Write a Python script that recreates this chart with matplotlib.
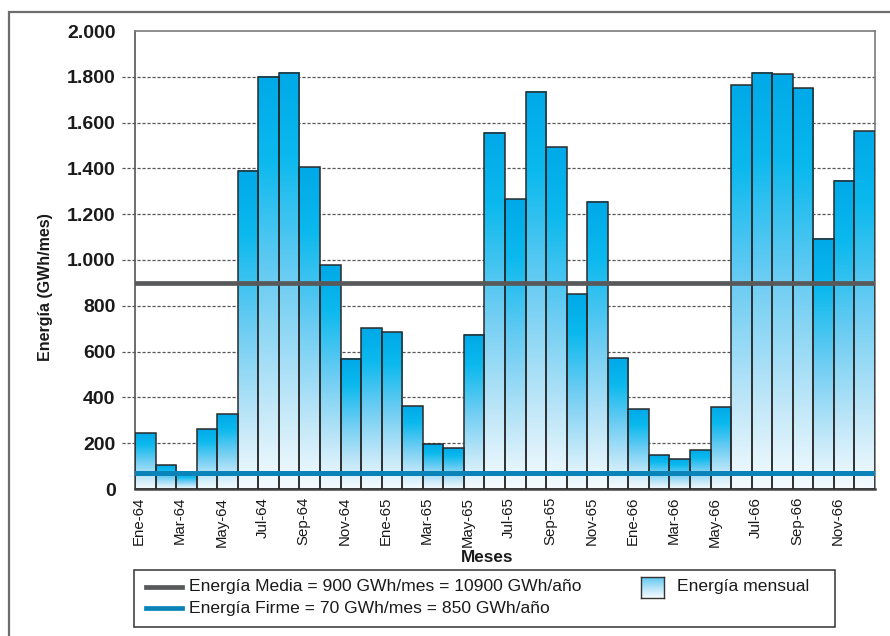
import numpy as np
import matplotlib
matplotlib.use('Agg')
import matplotlib.pyplot as plt
from matplotlib.colors import LinearSegmentedColormap
from matplotlib.patches import Rectangle
from matplotlib.lines import Line2D

# Monthly energy (GWh/mes), Jan-1964 .. Dec-1966
months = ['Ene', 'Feb', 'Mar', 'Abr', 'May', 'Jun', 'Jul', 'Ago', 'Sep', 'Oct', 'Nov', 'Dic']
years = ['64', '65', '66']
energia = [243, 103, 64, 262, 326, 1389, 1800, 1818, 1406, 977, 568, 702,
           684, 362, 196, 178, 674, 1556, 1266, 1734, 1492, 850, 1255, 571,
           348, 147, 130, 170, 357, 1763, 1818, 1811, 1751, 1092, 1345, 1562]
energia_media = 900
energia_firme = 70
yticks = [0, 200, 400, 600, 800, 1000, 1200, 1400, 1600, 1800, 2000]

labels = [f'{m}-{y}' for y in years for m in months]

W, H = 890, 636
def fx(x):
    return x / W
def fy(y):
    return 1 - y / H

SANS = ['Liberation Sans', 'DejaVu Sans']

grad_cmap = LinearSegmentedColormap.from_list(
    'bar', [(0.0, '#00a9e8'), (0.2, '#0bb9ee'), (0.5, '#6ecdf3'),
            (0.78, '#bde6f8'), (1.0, '#f5fbfe')])
legend_cmap = LinearSegmentedColormap.from_list(
    'leg', [(0.0, '#5ec8f1'), (0.5, '#b2e2f8'), (1.0, '#f7fcff')])
grad = np.linspace(0, 1, 256).reshape(-1, 1)

fig = plt.figure(figsize=(W / 100, H / 100), dpi=100)
ax = fig.add_axes([fx(135), fy(489), (875 - 135) / W, (489 - 31) / H])

# dashed grid, extending a little left of the axis
for v in yticks[1:-1]:
    ax.plot([-0.0176, 1], [v, v], transform=ax.get_yaxis_transform(),
            color='#555555', lw=0.9, ls=(0, (2.5, 1.5)), zorder=1, clip_on=False)

x = np.arange(len(energia))
bars = ax.bar(x, energia, width=1.0, facecolor='none', edgecolor='#2a2a2a',
              lw=1.1, zorder=3)
for xi, v in zip(x, energia):
    ax.imshow(grad, cmap=grad_cmap, aspect='auto', interpolation='bicubic',
              extent=(xi - 0.5, xi + 0.5, 0, v), origin='upper', zorder=2)

ax.axhline(energia_media, color='#58595b', lw=3.4, zorder=4)
ax.axhline(energia_firme, color='#0a84b8', lw=3.6, zorder=4)

ax.set_xlim(-0.5, len(energia) - 0.5)
ax.set_ylim(0, 2000)

ax.set_yticks(yticks)
ax.set_yticklabels([f'{v:,.0f}'.replace(',', '.') for v in yticks],
                   fontweight='bold', fontsize=14, family=SANS, color='#1a1a1a')
ax.set_xticks(x[::2] - 0.3)
ax.set_xticklabels(labels[::2], rotation=90, fontsize=10.8, family=SANS,
                   color='#1a1a1a')
ax.tick_params(axis='y', length=0, pad=14)
ax.tick_params(axis='x', length=0, pad=5.5)

for side in ['top', 'right']:
    ax.spines[side].set_color('#7a7a7a')
    ax.spines[side].set_linewidth(1.2)
ax.spines['left'].set_color('#555555')
ax.spines['left'].set_linewidth(1.2)
ax.spines['bottom'].set_color('#444444')
ax.spines['bottom'].set_linewidth(1.8)

fig.text(fx(46), fy(287), 'Energía (GWh/mes)', rotation=90, ha='center', va='center',
         fontsize=11.5, fontweight='bold', family=SANS, color='#1a1a1a')
fig.text(fx(487), fy(557), 'Meses', ha='center', va='center',
         fontsize=12.3, fontweight='bold', family=SANS, color='#1a1a1a')

# outer frame
fig.add_artist(Rectangle((fx(9), fy(660)), (900 - 9) / W, (660 - 12) / H,
                         transform=fig.transFigure, fill=False,
                         edgecolor='#6d6d6d', lw=1.6, clip_on=False))

# legend box
fig.add_artist(Rectangle((fx(134), fy(627)), (835 - 134) / W, (627 - 570) / H,
                         transform=fig.transFigure, fill=False,
                         edgecolor='#333333', lw=1.1))
for yy, col, txt in [(587, '#58595b', f'Energía Media = {energia_media} GWh/mes = 10900 GWh/año'),
                     (608, '#0a84b8', f'Energía Firme = {energia_firme} GWh/mes = 850 GWh/año')]:
    fig.add_artist(Line2D([fx(146), fx(182)], [fy(yy), fy(yy)],
                          transform=fig.transFigure, color=col, lw=3.4))
    fig.text(fx(189), fy(yy), txt, ha='left', va='center', fontsize=12.6,
             family=SANS, color='#1a1a1a')

lax = fig.add_axes([fx(641), fy(598), 23 / W, 21 / H])
lax.imshow(grad, cmap=legend_cmap, aspect='auto', interpolation='bicubic',
           extent=(0, 1, 0, 1), origin='upper')
lax.set_xticks([])
lax.set_yticks([])
for s in lax.spines.values():
    s.set_color('#333333')
    s.set_linewidth(1.0)
fig.text(fx(677), fy(587), 'Energía mensual', ha='left', va='center', fontsize=12.6,
         family=SANS, color='#1a1a1a')

fig.savefig('out.png', dpi=100)
